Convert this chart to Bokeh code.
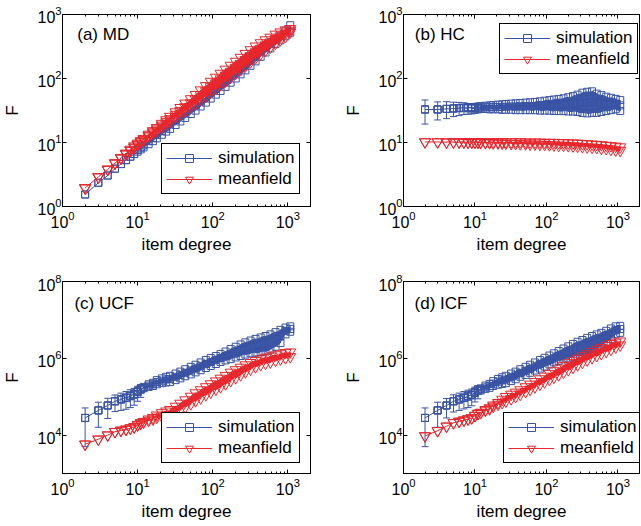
from bokeh.plotting import figure
from bokeh.models import (LogAxis, FixedTicker, Legend, LegendItem, Label, Whisker,
                          TeeHead, ColumnDataSource, CustomJSTickFormatter, Range1d)
from bokeh.layouts import column, row
from bokeh.embed import file_html
from bokeh.resources import INLINE

# ---------------- data ----------------
degree = [2, 3, 4, 5, 6, 7, 8, 9, 10, 11, 12, 14, 16, 18, 21, 24, 27, 32, 37, 43,
          51, 59, 69, 81, 94, 110, 127, 148, 173, 202, 235, 272, 318, 371, 434, 504,
          585, 685, 796, 930, 1075]

# (a) MD
md_sim_lo = [1.54, 2.35, 3.05, 3.9, 4.6, 5.3, 6.0, 6.6, 7.2, 7.8, 8.4, 9.4, 10.5, 11.6, 13.2,
             14.8, 16.3, 18.8, 21.3, 24.2, 27.8, 31.5, 36.5, 42, 48.5, 56, 64, 74, 86, 100,
             116, 134, 158, 185, 218, 255, 295, 345, 395, 455, 520]
md_sim_hi = [1.54, 2.35, 3.05, 3.9, 4.6, 5.3, 6.0, 6.6, 7.6, 8.3, 9.0, 10.5, 11.8, 13.2, 15.2,
             17.2, 19.2, 22.5, 25.8, 29.8, 34.5, 38, 44, 51, 60, 70, 81, 94, 110, 128,
             148, 170, 198, 230, 270, 310, 355, 410, 470, 560, 680]
md_mf_lo = [1.95, 2.9, 3.8, 4.75, 5.7, 6.6, 7.5, 8.4, 9.3, 10.2, 11, 12.5, 14, 15.5, 17.5,
            19.5, 21.5, 25, 28, 31.5, 36, 40.5, 46.5, 53, 61, 70, 80, 91, 104, 120,
            137, 157, 182, 210, 242, 275, 310, 355, 400, 450, 530]
md_mf_mid = [1.95, 2.9, 3.8, 4.75, 5.7, 6.6, 7.5, 8.4, 9.4, 10.4, 11.2, 12.9, 14.6, 16.2, 18.6,
             21, 23.4, 27.4, 31.3, 36, 41.5, 47.7, 55.4, 64, 74, 85, 98, 112, 129, 149,
             171, 196, 226, 259, 295, 332, 369, 417, 460, 506, 565]
md_mf_hi = [1.95, 2.9, 3.8, 4.8, 5.8, 6.8, 7.8, 8.8, 9.7, 10.6, 11.5, 13.4, 15.2, 17, 19.8,
            22.5, 25.5, 30, 35, 41, 48, 56, 66, 77, 90, 104, 120, 139, 160, 185,
            213, 245, 280, 320, 360, 400, 440, 490, 530, 570, 600]

# (b) HC
hc_sim_lo = [32.8, 32.8, 33.5, 34, 34.3, 34.5, 34.2, 34, 34, 34, 33.5, 33.5, 33, 33, 33,
             32.5, 32.5, 32.5, 32, 32, 32, 32, 32, 31.5, 31.5, 31.5, 31, 31, 31, 30.5,
             30.5, 30, 29, 28.5, 29, 29, 30, 31, 32, 33, 31]
hc_sim_mid = [32.8, 32.8, 33.5, 34, 34.5, 34.7, 34.8, 34.8, 35, 35.2, 35.2, 35.5, 35.5, 35.7, 35.8,
              36, 36.2, 36.5, 36.5, 36.7, 37, 37, 37.2, 37.5, 38, 38.2, 38.5, 39, 39.5, 40,
              40.5, 41, 42, 42, 43, 42, 41, 40, 40, 40, 38]
hc_sim_hi = [32.8, 32.8, 33.5, 34, 34.6, 35, 35.5, 35.5, 36, 36.5, 37, 37.5, 38, 38.5, 39,
             39.5, 40, 40.5, 41, 41.5, 42, 42.5, 43, 44, 45, 46, 47, 48, 49, 51,
             53, 56, 60, 62, 63, 58, 55, 52, 50, 48, 46]
hc_sim_err = [13.4, 10.3, 9.9, 8.6, 8.0, 7.2, 6.5, 6.0, 5.5, 5.0]
hc_mf_lo = [10.2, 10.2, 10.1, 10.1, 10.1, 10.1, 10.0, 10.0, 10.0, 10.0, 9.9, 9.9, 9.9, 9.8, 9.8,
            9.7, 9.7, 9.6, 9.6, 9.5, 9.5, 9.4, 9.4, 9.3, 9.3, 9.2, 9.1, 9.0, 9.0, 8.9,
            8.8, 8.7, 8.6, 8.5, 8.4, 8.3, 8.1, 8.0, 7.8, 7.6, 7.5]
hc_mf_hi = [10.2, 10.2, 10.2, 10.2, 10.2, 10.2, 10.2, 10.2, 10.2, 10.2, 10.2, 10.2, 10.2, 10.2, 10.2,
            10.2, 10.2, 10.2, 10.2, 10.2, 10.1, 10.1, 10.1, 10.1, 10.0, 10.0, 10.0, 9.9, 9.9, 9.8,
            9.8, 9.7, 9.6, 9.5, 9.4, 9.3, 9.2, 9.0, 8.9, 8.7, 8.5]

# (c) UCF
ucf_sim_lo = [28e3, 44e3, 59e3, 76e3, 84e3, 92e3, 102e3, 112e3, 131e3, 151e3, 165e3,
              180e3, 190e3, 210e3, 225e3, 235e3, 240e3, 270e3, 300e3, 340e3, 380e3,
              430e3, 490e3, 560e3, 630e3, 710e3, 800e3, 880e3, 950e3, 1.05e6, 1.15e6,
              1.25e6, 1.35e6, 1.4e6, 1.45e6, 1.5e6, 1.7e6, 2.0e6, 2.5e6, 4.2e6, 4.9e6]
ucf_sim_mid = [28e3, 44e3, 59e3, 76e3, 85e3, 93e3, 104e3, 115e3, 135e3, 158e3, 172e3,
               195e3, 210e3, 240e3, 260e3, 280e3, 290e3, 330e3, 370e3, 420e3, 480e3,
               540e3, 620e3, 710e3, 800e3, 900e3, 1.02e6, 1.15e6, 1.3e6, 1.45e6, 1.65e6,
               1.8e6, 2.0e6, 2.15e6, 2.3e6, 2.4e6, 2.7e6, 3.2e6, 3.7e6, 5.2e6, 5.8e6]
ucf_sim_hi = [28e3, 44e3, 59e3, 76e3, 86e3, 95e3, 107e3, 118e3, 140e3, 165e3, 180e3,
              210e3, 230e3, 270e3, 300e3, 330e3, 350e3, 400e3, 450e3, 520e3, 600e3,
              680e3, 780e3, 900e3, 1.02e6, 1.15e6, 1.3e6, 1.5e6, 1.75e6, 2.0e6, 2.3e6,
              2.6e6, 2.9e6, 3.2e6, 3.5e6, 3.8e6, 4.2e6, 4.8e6, 5.5e6, 6.3e6, 6.8e6]
ucf_sim_err = [23e3, 28e3, 32e3, 35e3, 40e3, 45e3, 50e3, 52e3, 55e3, 55e3]
ucf_mf_lo = [5.8e3, 7.8e3, 10e3, 12.3e3, 13.2e3, 14e3, 15e3, 16e3, 18e3, 20e3, 21.5e3,
             24e3, 26e3, 29e3, 31e3, 33e3, 34e3, 40e3, 46e3, 54e3, 65e3,
             78e3, 92e3, 112e3, 130e3, 155e3, 180e3, 215e3, 260e3, 310e3, 370e3,
             440e3, 520e3, 600e3, 680e3, 740e3, 800e3, 880e3, 960e3, 1.03e6, 1.1e6]
ucf_mf_hi = [5.8e3, 7.8e3, 10e3, 12.3e3, 13.4e3, 14.3e3, 15.4e3, 16.5e3, 18.8e3, 21e3, 22.5e3,
             26e3, 28.5e3, 33e3, 38e3, 42e3, 46e3, 56e3, 67e3, 82e3, 102e3,
             125e3, 150e3, 180e3, 215e3, 255e3, 300e3, 355e3, 430e3, 500e3, 580e3,
             670e3, 770e3, 870e3, 960e3, 1.05e6, 1.13e6, 1.22e6, 1.3e6, 1.4e6, 1.45e6]

# (d) ICF
icf_sim_lo = [28e3, 44e3, 59e3, 76e3, 84e3, 92e3, 100e3, 108e3, 125e3, 140e3, 145e3,
              160e3, 170e3, 190e3, 205e3, 215e3, 225e3, 255e3, 285e3, 330e3, 370e3,
              420e3, 480e3, 540e3, 610e3, 690e3, 780e3, 860e3, 940e3, 1.0e6, 1.1e6,
              1.15e6, 1.2e6, 1.3e6, 1.5e6, 1.8e6, 2.1e6, 2.6e6, 3.2e6, 4.2e6, 4.6e6]
icf_sim_mid = [28e3, 44e3, 59e3, 76e3, 85e3, 93e3, 102e3, 111e3, 130e3, 147e3, 155e3,
               175e3, 190e3, 220e3, 245e3, 265e3, 280e3, 320e3, 360e3, 410e3, 470e3,
               530e3, 610e3, 700e3, 790e3, 890e3, 1.0e6, 1.13e6, 1.25e6, 1.4e6, 1.55e6,
               1.75e6, 1.9e6, 2.1e6, 2.4e6, 2.8e6, 3.2e6, 3.8e6, 4.5e6, 5.4e6, 5.8e6]
icf_sim_hi = [28e3, 44e3, 59e3, 76e3, 86e3, 95e3, 105e3, 115e3, 135e3, 155e3, 165e3,
              195e3, 215e3, 255e3, 290e3, 320e3, 350e3, 400e3, 450e3, 520e3, 600e3,
              680e3, 780e3, 900e3, 1.03e6, 1.18e6, 1.35e6, 1.55e6, 1.8e6, 2.05e6, 2.35e6,
              2.7e6, 3.0e6, 3.4e6, 3.8e6, 4.2e6, 4.6e6, 5.2e6, 6.0e6, 6.8e6, 7.0e6]
icf_sim_err = [23e3, 28e3, 31e3, 36e3, 40e3, 44e3, 48e3, 50e3, 52e3, 52e3]
icf_mf_lo = [9.5e3, 13e3, 17e3, 21e3, 22.7e3, 24.5e3, 26e3, 28e3, 32e3, 36e3, 38e3,
             44e3, 48e3, 56e3, 63e3, 70e3, 76e3, 88e3, 100e3, 115e3, 135e3,
             155e3, 180e3, 210e3, 240e3, 280e3, 320e3, 370e3, 430e3, 500e3, 580e3,
             670e3, 780e3, 900e3, 1.03e6, 1.17e6, 1.32e6, 1.5e6, 1.7e6, 1.95e6, 2.2e6]
icf_mf_hi = [9.5e3, 13e3, 17e3, 21e3, 22.8e3, 24.5e3, 26.5e3, 28e3, 32.5e3, 37e3, 39e3,
             46e3, 51e3, 60e3, 70e3, 85e3, 100e3, 115e3, 130e3, 150e3, 180e3,
             210e3, 245e3, 290e3, 340e3, 400e3, 470e3, 550e3, 650e3, 760e3, 880e3,
             1.0e6, 1.15e6, 1.3e6, 1.5e6, 1.7e6, 1.9e6, 2.15e6, 2.4e6, 2.6e6, 2.8e6]

x_ticks = [1, 10, 100, 1000]
x_minor_ticks = [2, 3, 4, 5, 6, 7, 8, 9, 20, 30, 40, 50, 60, 70, 80, 90,
                 200, 300, 400, 500, 600, 700, 800, 900, 2000]
y_ticks_small = [1, 10, 100, 1000]
y_ticks_large = [1e4, 1e6, 1e8]
series_labels = ["simulation", "meanfield"]
panel_titles = ["(a) MD", "(b) HC", "(c) UCF", "(d) ICF"]

# ---------------- style ----------------
BLUE = "#3953A4"
RED = "#E8262B"
FONT = "Liberation Sans"


def band(xs, *ys):
    """Order the read-off values column by column, alternating direction."""
    X, Y = [], []
    for i, x in enumerate(xs):
        col = [y[i] for y in ys]
        if i % 2:
            col = col[::-1]
        X += [x] * len(col)
        Y += col
    return X, Y


def draw_series(p, ys, color, marker, size):
    # dense overlap of many points -> solid band between the lowest and highest values
    p.varea(x=degree, y1=ys[0], y2=ys[-1], fill_color=color, fill_alpha=0.95)
    X, Y = band(degree, *ys)
    ln = p.line(X, Y, line_color=color, line_width=1)
    sc = p.scatter(X, Y, marker=marker, size=size, line_color=color,
                   fill_alpha=0, line_width=1)
    return ln, sc


def panel(title, sim, mf, err, y_rng, y_ticks, width, height,
          mb_left, mb_right, mb_top, mb_bottom, title_xy, legend_xy):
    p = figure(x_axis_type="log", y_axis_type="log",
               x_range=Range1d(1, 2000), y_range=Range1d(*y_rng),
               width=width, height=height,
               min_border_left=mb_left, min_border_right=mb_right,
               min_border_top=mb_top, min_border_bottom=mb_bottom,
               output_backend="svg", toolbar_location=None,
               background_fill_color="white", border_fill_color="white")
    p.grid.visible = False
    p.outline_line_color = "black"
    p.outline_line_alpha = 1
    for ax, ticks, minors in ((p.xaxis[0], x_ticks, x_minor_ticks),
                              (p.yaxis[0], y_ticks, [])):
        ax.ticker = FixedTicker(ticks=ticks, minor_ticks=minors)
        ax.major_tick_in = 4
        ax.major_tick_out = 0
        ax.minor_tick_in = 2
        ax.minor_tick_out = 0
        ax.axis_line_color = "black"
        ax.major_tick_line_color = "black"
        ax.minor_tick_line_color = "black"
        ax.major_label_text_font = FONT
        ax.major_label_text_font_size = "16px"
        ax.major_label_text_color = "black"
        ax.axis_label_text_font = FONT
        ax.axis_label_text_font_size = "17px"
        ax.axis_label_text_font_style = "normal"
        ax.axis_label_text_color = "black"
    p.xaxis.axis_label = "item degree"
    p.yaxis.axis_label = "F"
    p.xaxis.major_label_standoff = 4
    p.xaxis.axis_label_standoff = 4
    p.yaxis.major_label_standoff = 1
    p.yaxis.axis_label_standoff = 12
    blank = "return ''"
    top = LogAxis(ticker=FixedTicker(ticks=x_ticks, minor_ticks=x_minor_ticks),
                  formatter=CustomJSTickFormatter(code=blank),
                  major_tick_in=4, major_tick_out=0, minor_tick_in=2, minor_tick_out=0,
                  major_label_text_font_size="0px", major_label_standoff=0,
                  axis_label_standoff=0, axis_line_color="black")
    right = LogAxis(ticker=FixedTicker(ticks=y_ticks, minor_ticks=[]),
                    formatter=CustomJSTickFormatter(code=blank),
                    major_tick_in=4, major_tick_out=0, minor_tick_in=0, minor_tick_out=0,
                    major_label_text_font_size="0px", major_label_standoff=0,
                    axis_label_standoff=0, axis_line_color="black")
    p.add_layout(top, "above")
    p.add_layout(right, "right")

    if err is not None:
        n = len(err)
        base = sim[0][:n]
        src = ColumnDataSource(dict(x=degree[:n],
                                    upper=[v + e for v, e in zip(base, err)],
                                    lower=[v - e for v, e in zip(base, err)]))
        w = Whisker(source=src, base="x", upper="upper", lower="lower",
                    line_color=BLUE, line_width=1,
                    upper_head=TeeHead(size=7, line_color=BLUE, line_width=1),
                    lower_head=TeeHead(size=7, line_color=BLUE, line_width=1))
        p.add_layout(w)
    sl, ss = draw_series(p, sim, BLUE, "square", 7)
    ml, ms = draw_series(p, mf, RED, "inverted_triangle", 11)

    leg = Legend(items=[LegendItem(label=series_labels[0], renderers=[sl, ss]),
                        LegendItem(label=series_labels[1], renderers=[ml, ms])],
                 location=legend_xy, orientation="vertical",
                 glyph_width=46, glyph_height=20, label_height=20,
                 label_standoff=6, spacing=1, padding=4, margin=0,
                 label_text_font=FONT, label_text_font_size="17px",
                 label_text_color="black",
                 border_line_color="black", border_line_width=1, border_line_alpha=1,
                 background_fill_color="white", background_fill_alpha=1)
    p.add_layout(leg, "center")
    p.add_layout(Label(x=title_xy[0], y=title_xy[1], text=title, text_font=FONT,
                       text_font_size="17px", text_baseline="middle",
                       text_color="black"))
    return p


pa = panel(panel_titles[0], (md_sim_lo, md_sim_hi), (md_mf_lo, md_mf_mid, md_mf_hi), None,
           (1, 1000), y_ticks_small, 341, 274, 58, 31, 14, 68, (1.57, 490), (99, 12))
pb = panel(panel_titles[1], (hc_sim_lo, hc_sim_mid, hc_sim_hi), (hc_mf_lo, hc_mf_hi), hc_sim_err,
           (1, 1000), y_ticks_small, 300, 274, 50, 2, 14, 68, (1.44, 490), (96, 132))
pc = panel(panel_titles[2], (ucf_sim_lo, ucf_sim_mid, ucf_sim_hi), (ucf_mf_lo, ucf_mf_hi),
           ucf_sim_err, (1e3, 1e8), y_ticks_large, 341, 252, 58, 31, 7, 53,
           (1.44, 2.6e7), (99, 10))
pd = panel(panel_titles[3], (icf_sim_lo, icf_sim_mid, icf_sim_hi), (icf_mf_lo, icf_mf_hi),
           icf_sim_err, (1e3, 1e8), y_ticks_large, 300, 252, 50, 2, 7, 53,
           (1.43, 2.6e7), (100, 10))

layout = column(row(pa, pb), row(pc, pd))
open("out.html", "w").write(file_html(layout, INLINE))
